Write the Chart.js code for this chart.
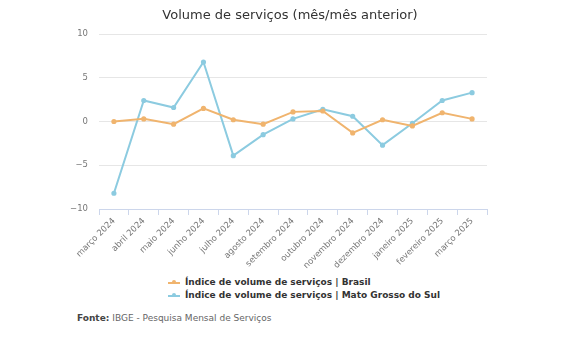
<!DOCTYPE html>
<html>
<head>
<meta charset="utf-8">
<script src="https://cdn.jsdelivr.net/npm/chart.js@4"></script>
<style>
  body { margin: 0; background: #fff; font-family: "DejaVu Sans", sans-serif; }
  #wrap { position: relative; width: 575px; height: 337px; }
  #grafico { position: absolute; left: 0; top: 0; }
  #titulo { position: absolute; left: 0; top: 7px; width: 580px; text-align: center; font-size: 13px; color: #333; }
  #legenda { position: absolute; left: 168px; top: 276px; font-size: 9px; font-weight: bold; color: #333; }
  #legenda div { height: 13px; line-height: 13px; white-space: nowrap; }
  #legenda span.marca { display: inline-block; width: 12px; height: 2px; vertical-align: middle; margin-right: 5px; position: relative; }
  #legenda span.marca i { position: absolute; left: 4px; top: -1.5px; width: 4px; height: 4px; border-radius: 2px; }
  #fonte { position: absolute; left: 77px; top: 313px; font-size: 9px; color: #666; }
</style>
</head>
<body>
<div id="wrap">
  <canvas id="grafico" width="575" height="272"></canvas>
  <div id="titulo">Volume de serviços (mês/mês anterior)</div>
  <div id="legenda"></div>
  <div id="fonte"><b style="color:#444">Fonte:</b> IBGE - Pesquisa Mensal de Serviços</div>
</div>
<script>
// --- DADOS ---
const meses = ['março 2024', 'abril 2024', 'maio 2024', 'junho 2024', 'julho 2024', 'agosto 2024',
  'setembro 2024', 'outubro 2024', 'novembro 2024', 'dezembro 2024', 'janeiro 2025', 'fevereiro 2025', 'março 2025'];
const brasil = [0.0, 0.3, -0.3, 1.5, 0.2, -0.3, 1.1, 1.2, -1.3, 0.2, -0.5, 1.0, 0.3];
const matoGrossoSul = [-8.2, 2.4, 1.6, 6.8, -3.9, -1.5, 0.3, 1.4, 0.6, -2.7, -0.2, 2.4, 3.3];
const nomesSeries = ['Índice de volume de serviços | Brasil', 'Índice de volume de serviços | Mato Grosso do Sul'];
const coresSeries = ['#f0b46e', '#8ccbe0'];

const series = [brasil, matoGrossoSul];

const ctx = document.getElementById('grafico').getContext('2d');
const grafico = new Chart(ctx, {
    type: 'line',
    data: {
        labels: meses,
        datasets: series.map((valores, i) => ({
            label: nomesSeries[i],
            data: valores,
            borderColor: coresSeries[i],
            backgroundColor: coresSeries[i],
            borderWidth: 2,
            pointRadius: 1.6,
            pointHoverRadius: 3,
            tension: 0
        }))
    },
    options: {
        responsive: false,
        animation: false,
        layout: { padding: { left: 0, right: 88, top: 34, bottom: 0 } },
        plugins: {
            legend: { display: false },
            tooltip: { enabled: false }
        },
        scales: {
            x: {
                offset: true,
                afterFit: s => { s.height = 63; },
                grid: { offset: true, drawOnChartArea: false, color: '#ccd6eb', tickLength: 6 },
                border: { color: '#ccd6eb' },
                ticks: {
                    color: '#777',
                    font: { family: 'DejaVu Sans', size: 8.5 },
                    minRotation: 45, maxRotation: 45, autoSkip: false, padding: 1
                }
            },
            y: {
                min: -10, max: 10,
                afterFit: s => { s.width = 99; },
                grid: { color: '#e6e6e6', drawTicks: false },
                border: { display: false },
                ticks: {
                    stepSize: 5, color: '#777', padding: 11,
                    font: { family: 'DejaVu Sans', size: 8.5 },
                    callback: v => v < 0 ? '\u2212' + Math.abs(v) : v
                }
            }
        }
    }
});

// --- LEGENDA ---
const legendaEl = document.getElementById('legenda');
grafico.data.datasets.forEach(ds => {
    const linha = document.createElement('div');
    linha.innerHTML = `<span class="marca" style="background:${ds.borderColor}"><i style="background:${ds.borderColor}"></i></span>${ds.label}`;
    legendaEl.appendChild(linha);
});
</script>
</body>
</html>
